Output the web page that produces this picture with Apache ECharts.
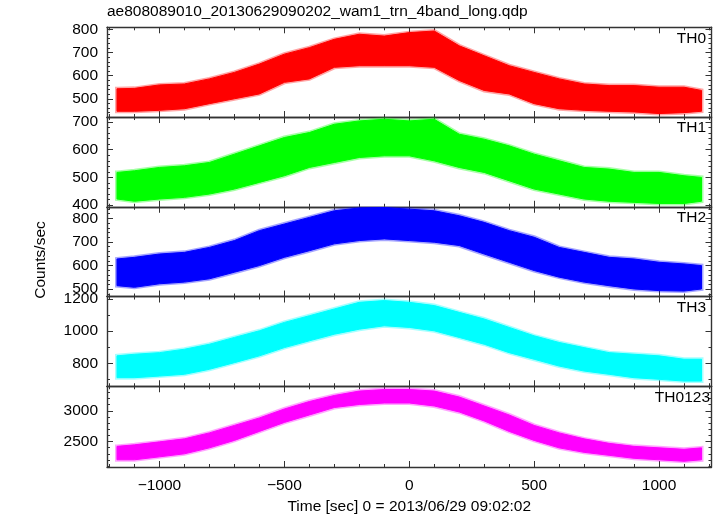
<!DOCTYPE html>
<html><head><meta charset="utf-8">
<script src="https://cdn.jsdelivr.net/npm/echarts@6/dist/echarts.min.js"></script>
<style>html,body{margin:0;padding:0;background:#fff}#c{width:717px;height:516px}</style>
</head><body><div id="c"></div>
<script>
// time samples [sec] (0 = 2013/06/29 09:02:02)
const times = [-1170,-1100,-1000,-900,-800,-700,-600,-500,-400,-300,-200,-100,0,100,200,300,400,500,600,700,800,900,1000,1100,1170];
// upper / lower envelope of the noisy light curves (counts/sec)
const th0Hi = [543,545,560,564,586,614,650,693,721,757,779,771,786,793,729,686,643,614,586,564,557,557,550,550,536];
const th0Lo = [446,446,450,457,479,500,521,571,586,636,643,643,643,636,579,536,521,479,457,450,446,443,436,440,446];
const th1Hi = [518,524,536,542,554,584,614,644,662,692,704,710,704,710,656,638,614,584,560,536,530,518,518,506,500];
const th1Lo = [422,414,422,428,440,458,482,506,536,554,572,578,578,560,536,518,488,458,440,422,414,410,406,406,414];
const th2Hi = [628,635,649,656,677,706,748,776,804,832,844,846,839,832,811,783,748,720,677,656,635,628,614,607,600];
const th2Lo = [515,508,523,530,544,572,600,635,663,692,706,713,706,699,685,649,614,579,551,530,515,501,494,492,501];
const th3Hi = [847,857,867,888,919,961,1002,1054,1095,1137,1178,1189,1178,1158,1116,1075,1023,971,930,898,867,857,847,826,826];
const th3Lo = [712,712,722,733,764,805,847,898,940,981,1012,1033,1023,1002,961,919,867,826,784,753,733,712,702,691,691];
const th0123Hi = [2422,2447,2495,2544,2641,2762,2883,3029,3150,3248,3320,3345,3345,3320,3223,3078,2932,2762,2641,2544,2471,2422,2398,2374,2398];
const th0123Lo = [2204,2204,2252,2301,2398,2519,2665,2811,2932,3053,3102,3126,3126,3078,2981,2835,2665,2519,2398,2325,2277,2228,2204,2180,2204];

const panelNames = ['TH0','TH1','TH2','TH3','TH0123'];
const xTickLabels = [-1000,-500,0,500,1000];
const yTickLabels = [[500,600,700,800],[400,500,600,700],[500,600,700,800],[800,1000,1200],[2500,3000]];

const hiArr = [th0Hi, th1Hi, th2Hi, th3Hi, th0123Hi];
const loArr = [th0Lo, th1Lo, th2Lo, th3Lo, th0123Lo];
const colors = ['#ff0000','#00ff00','#0000ff','#00ffff','#ff00ff'];
const yMin = [421, 394, 469, 659, 2087];
const yMax = [809, 718, 849, 1214, 3398];
const yMinorStep = [20,20,20,100,100];
const xMin = -1210, xMax = 1210;

const FONT = 'Liberation Sans, Arial, Helvetica, sans-serif';
const FS = 15.5;
const lineCol = '#333';
const pTop = 27.3, pH = 89.74;

function range(a, b, s) { const r = []; for (let v = Math.ceil(a / s) * s; v <= b + 1e-9; v += s) r.push(v); return r; }
const xMinor = range(xMin, xMax, 100);

const grids = [], xAxes = [], yAxes = [], series = [], graphics = [];
for (let i = 0; i < 5; i++) {
  grids.push({left: 107, right: 5.5, top: pTop + i * pH, height: pH});
  const isLast = i === 4;
  [['bottom', xTickLabels, 6, true], ['bottom', xMinor, 3, false], ['top', xTickLabels, 6, true], ['top', xMinor, 3, false]].forEach(([pos, vals, len, major]) => {
    const ax = {
      type: 'value', gridIndex: i, position: pos, min: xMin, max: xMax,
      axisLine: {show: major, onZero: false, lineStyle: {color: lineCol, width: 1.4}},
      axisTick: {show: true, inside: true, length: len, customValues: vals, lineStyle: {color: lineCol, width: 1}},
      axisLabel: {show: false},
      splitLine: {show: false}
    };
    if (isLast && pos === 'bottom' && major) {
      ax.axisLabel = {show: true, customValues: xTickLabels, color: '#000', fontFamily: FONT, fontSize: FS, margin: 11,
        formatter: v => (v < 0 ? '\u2212' + Math.abs(v) : String(v))};
      ax.name = 'Time [sec] 0 = 2013/06/29 09:02:02';
      ax.nameLocation = 'middle';
      ax.nameGap = 32;
      ax.nameTextStyle = {color: '#000', fontFamily: FONT, fontSize: FS};
    }
    xAxes.push(ax);
  });
  const yMinorVals = range(yMin[i], yMax[i], yMinorStep[i]);
  [['left', yTickLabels[i], 6, true], ['left', yMinorVals, 3, false], ['right', yTickLabels[i], 6, true], ['right', yMinorVals, 3, false]].forEach(([pos, vals, len, major]) => {
    const ax = {
      type: 'value', gridIndex: i, position: pos, min: yMin[i], max: yMax[i],
      axisLine: {show: major, onZero: false, lineStyle: {color: lineCol, width: 1.4}},
      axisTick: {show: true, inside: true, length: len, customValues: vals, lineStyle: {color: lineCol, width: 1}},
      axisLabel: {show: false},
      splitLine: {show: false}
    };
    if (pos === 'left' && major) {
      ax.axisLabel = {show: true, customValues: yTickLabels[i], color: '#000', fontFamily: FONT, fontSize: FS, margin: 9,
        formatter: v => String(v)};
    }
    yAxes.push(ax);
  });
  const hi = hiArr[i], lo = loArr[i], col = colors[i];
  series.push({
    type: 'custom', xAxisIndex: 4 * i, yAxisIndex: 4 * i, silent: true, clip: true,
    encode: {x: 0, y: [1, 2]},
    data: times.map((t, k) => [t, lo[k], hi[k]]),
    renderItem: (params, api) => {
      if (params.dataIndex !== 0) return null;
      const pts = [];
      for (let k = 0; k < times.length; k++) pts.push(api.coord([times[k], hi[k]]));
      for (let k = times.length - 1; k >= 0; k--) pts.push(api.coord([times[k], lo[k]]));
      return {type: 'group', children: [
        {type: 'polygon', shape: {points: pts}, style: {fill: 'none', stroke: col, lineWidth: 4, opacity: 0.35}},
        {type: 'polygon', shape: {points: pts}, style: {fill: col, stroke: col, lineWidth: 1}}
      ]};
    }
  });
  graphics.push({type: 'text', x: isLast ? 710 : 706, y: pTop + i * pH + 3, z: 10,
    style: {text: panelNames[i], align: 'right', verticalAlign: 'top', fill: '#000', font: FS + 'px ' + FONT}});
}
graphics.push({type: 'text', x: 107, y: 4, style: {text: 'ae808089010_20130629090202_wam1_trn_4band_long.qdp', align: 'left', verticalAlign: 'top', fill: '#000', font: FS + 'px ' + FONT}});
graphics.push({type: 'text', x: 41, y: 260, rotation: Math.PI / 2, style: {text: 'Counts/sec', align: 'center', verticalAlign: 'middle', fill: '#000', font: FS + 'px ' + FONT}});

const chart = echarts.init(document.getElementById('c'), null, {renderer: 'canvas'});
chart.setOption({
  animation: false,
  backgroundColor: '#fff',
  grid: grids, xAxis: xAxes, yAxis: yAxes, series: series, graphic: graphics
});
</script></body></html>
